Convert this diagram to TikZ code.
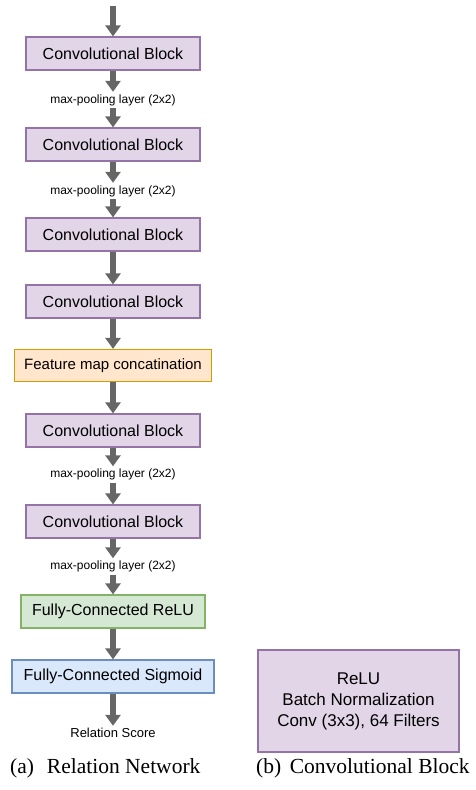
\documentclass[tikz,border=0pt]{standalone}
\usepackage{fontspec}
\setmainfont{Liberation Serif}
\setsansfont{Liberation Sans}
\usetikzlibrary{arrows.meta, positioning}
\definecolor{ConvFill}{HTML}{E1D5E7}
\definecolor{ConvLine}{HTML}{9673A6}
\definecolor{ConcatFill}{HTML}{FFE6CC}
\definecolor{ConcatLine}{HTML}{D79B00}
\definecolor{ReluFill}{HTML}{D5E8D4}
\definecolor{ReluLine}{HTML}{82B366}
\definecolor{SigFill}{HTML}{DAE8FC}
\definecolor{SigLine}{HTML}{6C8EBF}
\definecolor{FlowGrey}{HTML}{666666}

\begin{document}
\begin{tikzpicture}[x=1pt, y=-1pt,
    block/.style={draw=ConvLine, fill=ConvFill, line width=1.2pt, minimum width=174pt,
        minimum height=33pt, inner sep=0pt, font=\sffamily\fontsize{16}{19}\selectfont},
    concat/.style={block, draw=ConcatLine, fill=ConcatFill, minimum width=197pt,
        minimum height=32pt, font=\sffamily\fontsize{15}{18}\selectfont},
    fcrelu/.style={block, draw=ReluLine, fill=ReluFill, minimum width=184pt},
    fcsig/.style={block, draw=SigLine, fill=SigFill, minimum width=202pt},
    cbox/.style={block, minimum width=201pt, minimum height=102pt, align=center,
        font=\sffamily\fontsize{17}{21}\selectfont},
    pool/.style={font=\sffamily\fontsize{12}{14}\selectfont, text height=9pt,
        text depth=3pt, inner sep=2pt},
    flow/.style={draw=FlowGrey, line width=5.5pt, -{Triangle[width=15pt,length=11pt]}},
    caption/.style={font=\fontsize{21.5}{26}\selectfont, anchor=west, inner sep=0pt}
]
\useasboundingbox (0,0) rectangle (476,790);

% (a) relation network
\coordinate (in) at (113,6);
\node[block] (c1) at (113,53.5) {Convolutional Block};
\node[pool] (p1) at (113,100) {max-pooling layer (2x2)};
\node[block] (c2) at (113,144.5) {Convolutional Block};
\node[pool] (p2) at (113,191) {max-pooling layer (2x2)};
\node[block] (c3) at (113,234.5) {Convolutional Block};
\node[block] (c4) at (113,301.5) {Convolutional Block};
\node[concat] (fmap) at (113,365.5) {Feature map concatination};
\node[block] (c5) at (113,430.5) {Convolutional Block};
\node[pool] (p3) at (113,474.5) {max-pooling layer (2x2)};
\node[block] (c6) at (113,521.5) {Convolutional Block};
\node[pool] (p4) at (113,566.5) {max-pooling layer (2x2)};
\node[fcrelu] (fcr) at (113,611.5) {Fully-Connected ReLU};
\node[fcsig] (fcs) at (113,676.5) {Fully-Connected Sigmoid};
\node[pool, font=\sffamily\fontsize{13}{15}\selectfont] (score) at (113,734) {Relation Score};

\draw[flow] (in) -- (c1);
\draw[flow] (c1) -- (p1);
\draw[flow] (p1) -- (c2);
\draw[flow] (c2) -- (p2);
\draw[flow] (p2) -- (c3);
\draw[flow] (c3) -- (c4);
\draw[flow] (c4) -- (fmap);
\draw[flow] (fmap) -- (c5);
\draw[flow] (c5) -- (p3);
\draw[flow] (p3) -- (c6);
\draw[flow] (c6) -- (p4);
\draw[flow] (p4) -- (fcr);
\draw[flow] (fcr) -- (fcs);
\draw[flow] (fcs) -- (score);

% (b) convolutional block
\node[cbox] (cb) at (358.5,701) {ReLU\\Batch Normalization\\Conv (3x3), 64 Filters};

% captions
\node[caption] (capa) at (10,768) {(a)\hspace{0.6em}Relation Network};
\node[caption] (capb) at (256,768) {(b)\hspace{0.4em}Convolutional Block};
\end{tikzpicture}
\end{document}
